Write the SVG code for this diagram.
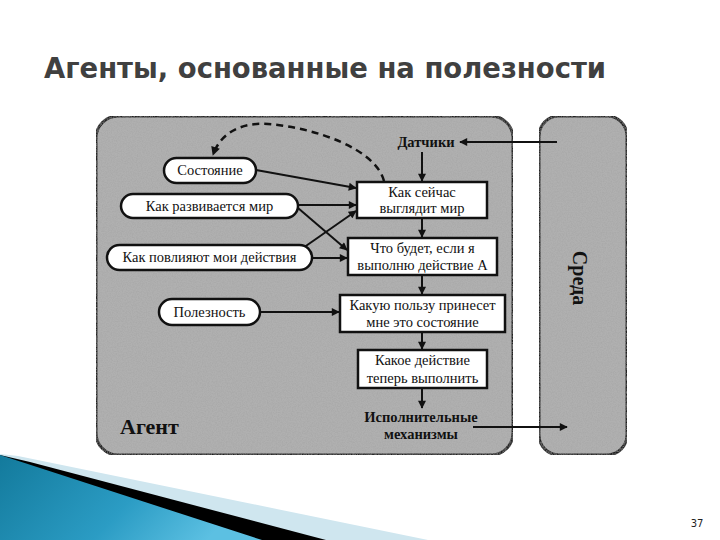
<svg xmlns="http://www.w3.org/2000/svg" width="720" height="540" viewBox="0 0 720 540">
<defs>
<marker id="ah" viewBox="0 0 10 10" refX="9" refY="5" markerWidth="9" markerHeight="8" markerUnits="userSpaceOnUse" orient="auto"><path d="M0,0 L10,5 L0,10 z" fill="#111"/></marker>
<marker id="ahd" viewBox="0 0 10 10" refX="9" refY="5" markerWidth="10" markerHeight="9" markerUnits="userSpaceOnUse" orient="auto"><path d="M0,0 L10,5 L0,10 z" fill="#111"/></marker>
<linearGradient id="blue" x1="0" y1="0" x2="1" y2="0.3">
<stop offset="0" stop-color="#137a9c"/>
<stop offset="0.6" stop-color="#2b9cc4"/>
<stop offset="1" stop-color="#5cc0e2"/>
</linearGradient>
<filter id="grain" x="0" y="0" width="1" height="1">
<feTurbulence type="fractalNoise" baseFrequency="0.8" numOctaves="2" seed="3" result="n"/>
<feColorMatrix in="n" type="matrix" values="0 0 0 0 0.35  0 0 0 0 0.35  0 0 0 0 0.35  0 0 0 0.9 -0.3" result="g"/>
<feComposite in="g" in2="SourceGraphic" operator="in" result="gi"/>
<feMerge><feMergeNode in="SourceGraphic"/><feMergeNode in="gi"/></feMerge>
</filter>
<style>
.panel{fill:#b0b0b0;stroke:#222;stroke-width:3}
.pill{fill:#fff;stroke:#111;stroke-width:2.5}
.box{fill:#fff;stroke:#111;stroke-width:2.5}
.t{font-family:"Liberation Serif","Times New Roman",serif;font-size:14.5px;fill:#111;text-anchor:middle}
.tb{font-family:"Liberation Serif","Times New Roman",serif;font-size:14.5px;font-weight:bold;fill:#111;text-anchor:middle}
.ln{stroke:#111;stroke-width:2;fill:none;marker-end:url(#ah)}
</style>
</defs>
<rect width="720" height="540" fill="#fff"/>
<text x="44" y="78" font-family="DejaVu Sans Condensed, DejaVu Sans, sans-serif" font-size="28" font-weight="bold" fill="#404040" textLength="562" lengthAdjust="spacingAndGlyphs">Агенты, основанные на полезности</text>

<g id="decor">
<polygon points="0,454 18,456 428,540 0,540" fill="#cfe6ef"/>
<polygon points="0,455 30,462 326,540 0,540" fill="#000"/>
<polygon points="0,455 262,540 0,540" fill="url(#blue)"/>
</g>

<g id="agent">
<rect class="panel" x="96" y="116" width="417" height="339" rx="22" filter="url(#grain)"/>
<text x="120" y="434" font-family="Liberation Serif, serif" font-size="22" font-weight="bold" fill="#111">Агент</text>
</g>
<g id="env">
<rect class="panel" x="539" y="116" width="88" height="339" rx="20" filter="url(#grain)"/>
<text transform="translate(573,278) rotate(90)" font-family="Liberation Serif, serif" font-size="20" font-weight="bold" fill="#111" text-anchor="middle">Среда</text>
</g>

<g id="connectors">
<path class="ln" d="M557,142 L460,142"/>
<path class="ln" d="M422,152 L422,181"/>
<path class="ln" d="M422,218 L422,237"/>
<path class="ln" d="M422,275 L422,294"/>
<path class="ln" d="M422,332 L422,349"/>
<path class="ln" d="M422,388 L422,408"/>
<path class="ln" d="M473,427 L567,427"/>
<path class="ln" d="M256,170 L356,188"/>
<path class="ln" d="M298,205 L356,205"/>
<path class="ln" d="M298,208 L347,250"/>
<path class="ln" d="M303,248 L356,211"/>
<path class="ln" d="M312,258 L347,258"/>
<path class="ln" d="M260,312 L339,312"/>
<path d="M384,181 C376,150 318,128 268,124 C240,122 220,134 213,155" stroke="#111" stroke-width="2.5" fill="none" stroke-dasharray="7,5" marker-end="url(#ahd)"/>
</g>

<g id="sensors"><text class="tb" x="426" y="147">Датчики</text></g>
<g id="state"><rect class="pill" x="164" y="158" width="92" height="25" rx="12.5"/><text class="t" x="210" y="175">Состояние</text></g>
<g id="evolve"><rect class="pill" x="121" y="194" width="177" height="24" rx="12"/><text class="t" x="209.5" y="211">Как развивается мир</text></g>
<g id="effects"><rect class="pill" x="107" y="245" width="205" height="25" rx="12.5"/><text class="t" x="209.5" y="262">Как повлияют мои действия</text></g>
<g id="utility"><rect class="pill" x="159" y="299" width="101" height="26" rx="13"/><text class="t" x="209.5" y="317">Полезность</text></g>

<g id="b1"><rect class="box" x="357" y="182" width="130" height="36"/><text class="t" x="422" y="197">Как сейчас</text><text class="t" x="422" y="213">выглядит мир</text></g>
<g id="b2"><rect class="box" x="348" y="238" width="149" height="37"/><text class="t" x="422.5" y="253">Что будет, если я</text><text class="t" x="422.5" y="270">выполню действие А</text></g>
<g id="b3"><rect class="box" x="340" y="295" width="165" height="37"/><text class="t" x="422.5" y="310">Какую пользу принесет</text><text class="t" x="422.5" y="327">мне это состояние</text></g>
<g id="b4"><rect class="box" x="358" y="350" width="129" height="38"/><text class="t" x="422.5" y="365">Какое действие</text><text class="t" x="422.5" y="383">теперь выполнить</text></g>
<g id="actuators"><text class="tb" x="421" y="422">Исполнительные</text><text class="tb" x="421" y="439">механизмы</text></g>

<text x="697" y="527" font-family="DejaVu Sans, sans-serif" font-size="10" fill="#222" text-anchor="middle">37</text>
</svg>
